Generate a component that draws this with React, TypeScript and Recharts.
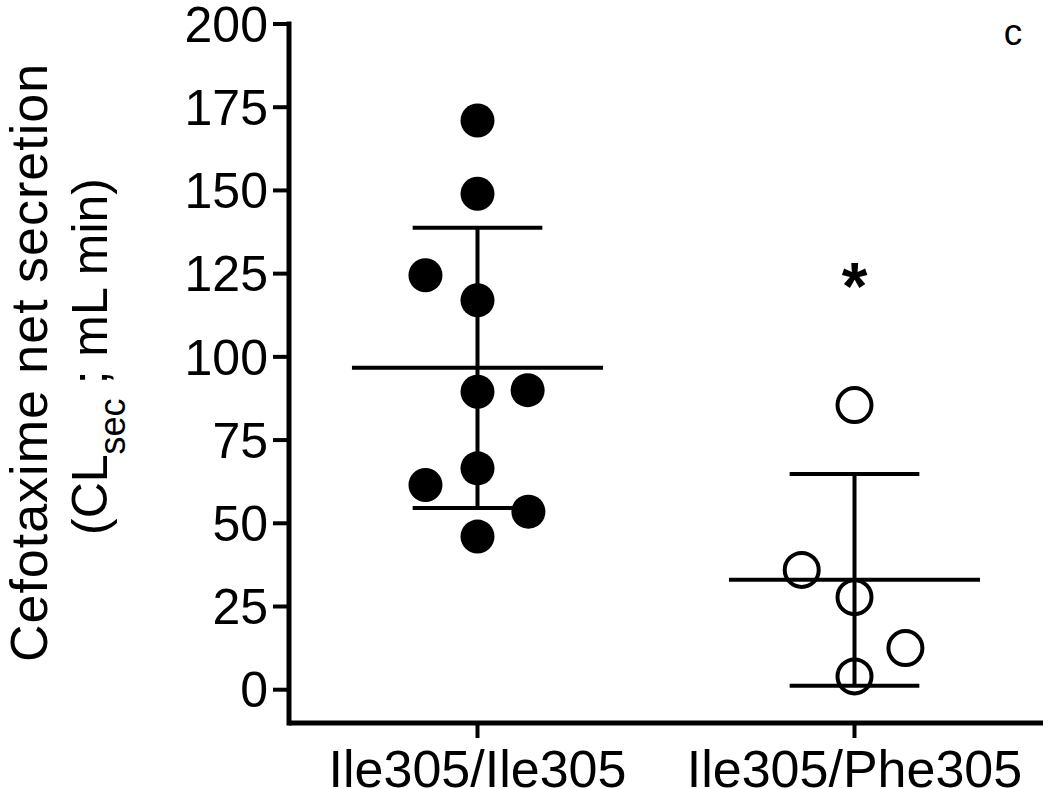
import { ReferenceLine, Scatter, ScatterChart, XAxis, YAxis } from "recharts";

const FONT = '"Liberation Sans", Arial, Helvetica, sans-serif';

// group names and x tick labels
const groups = ["Ile305/Ile305", "Ile305/Phe305"];
const groupPos = [1, 2];
const yTicks = [0, 25, 50, 75, 100, 125, 150, 175, 200];

// individual values (x = group position with small horizontal jitter)
const ileX = [1, 1, 0.862, 1, 1, 1.133, 1, 0.862, 1.135, 1];
const ileY = [171, 149, 124.5, 117, 89.5, 90, 66.5, 61.5, 53.5, 46];
const pheX = [2, 1.86, 2, 2.135, 2];
const pheY = [85.5, 36, 27.8, 12.5, 4];

// mean and SD per group
const means = [96.7, 33];
const sds = [42.1, 31.8];

// significance marker
const starGroup = 2;
const starValue = 123;

const MEAN_HALF = 0.333;
const CAP_HALF = 0.172;

const ileData = ileX.map((x, i) => ({ x, y: ileY[i] }));
const pheData = pheX.map((x, i) => ({ x, y: pheY[i] }));
const starData = [{ x: starGroup, y: starValue }];

const YLabel = (props: any) => {
  const vb = props.viewBox || { x: 0, y: 24, width: 289, height: 699 };
  const cy = vb.y + vb.height / 2;
  const c1 = cy - 11;
  const c2 = cy - 17;
  return (
    <g fontFamily={FONT} fill="#000">
      <text x={47} y={c1} fontSize={52} letterSpacing={1} textAnchor="middle" transform={`rotate(-90, 47, ${c1})`}>
        Cefotaxime net secretion
      </text>
      <text x={107} y={c2} fontSize={50} textAnchor="middle" transform={`rotate(-90, 107, ${c2})`}>
        <tspan>(CL</tspan>
        <tspan fontSize={36} dy={18}>sec</tspan>
        <tspan dy={-18}> ; mL min)</tspan>
      </text>
    </g>
  );
};

export default function App() {
  return (
    <div style={{ position: "absolute", left: 0, top: 0, width: 1050, height: 789, background: "#fff" }}>
      <ScatterChart width={1050} height={789} margin={{ top: 24, right: 7, bottom: 0, left: 0 }}>
        <XAxis
          type="number"
          dataKey="x"
          domain={[0.5, 2.5]}
          ticks={groupPos}
          tickFormatter={(v: number) => groups[groupPos.indexOf(v)] ?? ""}
          allowDataOverflow
          height={66}
          tickSize={15}
          tickMargin={12}
          axisLine={{ stroke: "#000", strokeWidth: 5 }}
          tickLine={{ stroke: "#000", strokeWidth: 4 }}
          tick={{ fill: "#000", fontSize: 52, fontFamily: FONT }}
        />
        <YAxis
          type="number"
          dataKey="y"
          domain={[-10, 200]}
          ticks={yTicks}
          interval={0}
          allowDataOverflow
          width={289}
          tickSize={16}
          tickMargin={5}
          axisLine={{ stroke: "#000", strokeWidth: 5, strokeLinecap: "square" }}
          tickLine={{ stroke: "#000", strokeWidth: 4 }}
          tick={{ fill: "#000", fontSize: 50, fontFamily: FONT }}
          label={<YLabel />}
        />
        {groupPos.map((g, i) => (
          <ReferenceLine
            key={`mean-${g}`}
            segment={[
              { x: g - MEAN_HALF, y: means[i] },
              { x: g + MEAN_HALF, y: means[i] },
            ]}
            stroke="#000"
            strokeWidth={4}
          />
        ))}
        {groupPos.map((g, i) => (
          <ReferenceLine
            key={`sd-${g}`}
            segment={[
              { x: g, y: means[i] - sds[i] },
              { x: g, y: means[i] + sds[i] },
            ]}
            stroke="#000"
            strokeWidth={4}
          />
        ))}
        {groupPos.map((g, i) => (
          <ReferenceLine
            key={`capt-${g}`}
            segment={[
              { x: g - CAP_HALF, y: means[i] + sds[i] },
              { x: g + CAP_HALF, y: means[i] + sds[i] },
            ]}
            stroke="#000"
            strokeWidth={4}
          />
        ))}
        {groupPos.map((g, i) => (
          <ReferenceLine
            key={`capb-${g}`}
            segment={[
              { x: g - CAP_HALF, y: means[i] - sds[i] },
              { x: g + CAP_HALF, y: means[i] - sds[i] },
            ]}
            stroke="#000"
            strokeWidth={4}
          />
        ))}
        <Scatter
          data={ileData}
          isAnimationActive={false}
          shape={(p: any) => <circle cx={p.cx} cy={p.cy} r={17} fill="#000" />}
        />
        <Scatter
          data={pheData}
          isAnimationActive={false}
          shape={(p: any) => <circle cx={p.cx} cy={p.cy} r={17} fill="none" stroke="#000" strokeWidth={4} />}
        />
        <Scatter
          data={starData}
          isAnimationActive={false}
          shape={(p: any) => (
            <text x={p.cx} y={p.cy + 29} textAnchor="middle" fontSize={66} fontWeight="bold" fontFamily={FONT} fill="#000">
              *
            </text>
          )}
        />
      </ScatterChart>
      <svg width={1050} height={789} style={{ position: "absolute", left: 0, top: 0, pointerEvents: "none" }}>
        <text x={1013} y={45} textAnchor="middle" fontSize={37} fontFamily={FONT} fill="#000">
          c
        </text>
      </svg>
    </div>
  );
}
